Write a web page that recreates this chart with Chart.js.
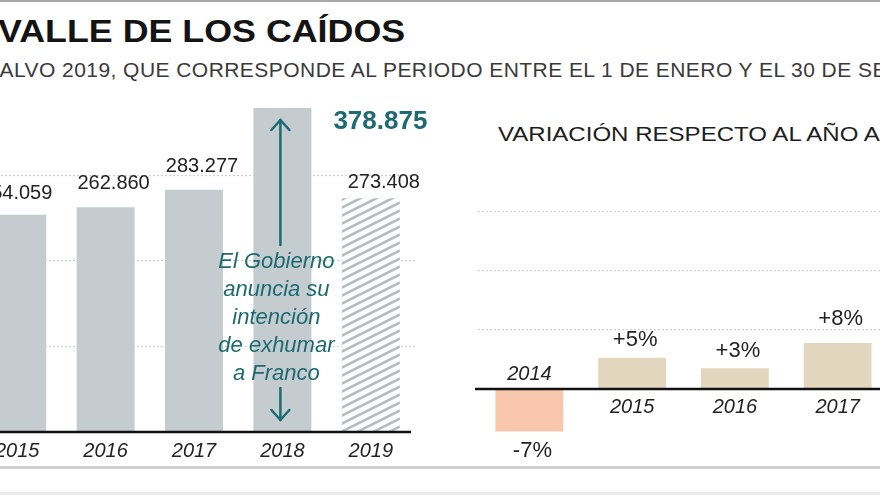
<!DOCTYPE html>
<html><head><meta charset="utf-8">
<script src="https://cdn.jsdelivr.net/npm/chart.js@4.4.0/dist/chart.umd.min.js"></script>
<style>
html,body{margin:0;padding:0;width:880px;height:495px;overflow:hidden;background:#fff;font-family:"Liberation Sans",Arial,sans-serif;}
#wrap{position:relative;width:880px;height:495px;overflow:hidden;}
.topline{position:absolute;left:0;top:0;width:880px;height:2px;background:#a8a8a8;}
.botline{position:absolute;left:0;top:466px;width:880px;height:3px;background:#cfcfcf;}
.botline2{position:absolute;left:0;top:492px;width:880px;height:3px;background:#ececec;}
.title{position:absolute;left:-2px;top:16px;font-weight:bold;font-size:31px;color:#141414;white-space:nowrap;line-height:31px;transform:scaleX(1.155);transform-origin:0 0;}
.sub{position:absolute;left:-15px;top:59px;font-size:21px;letter-spacing:0.45px;color:#3a3a3a;white-space:nowrap;line-height:21px;}
.rtitle{position:absolute;left:498px;top:123px;font-size:21px;color:#1e1e1e;white-space:nowrap;line-height:21px;transform:scaleX(1.145);transform-origin:0 0;}
#c1{position:absolute;left:-27px;top:80px;}
#c2{position:absolute;left:440px;top:140px;}
</style></head>
<body><div id="wrap">
<div class="topline"></div>
<div class="title">VALLE DE LOS CAÍDOS</div>
<div class="sub">SALVO 2019, QUE CORRESPONDE AL PERIODO ENTRE EL 1 DE ENERO Y EL 30 DE SEPTIEMBRE</div>
<div class="rtitle">VARIACIÓN RESPECTO AL AÑO ANTERIOR</div>
<canvas id="c1" width="480" height="400"></canvas>
<canvas id="c2" width="460" height="330"></canvas>
<div class="botline"></div>
<div class="botline2"></div>
</div>
<script>
// ---- data ----
const years = ['2015', '2016', '2017', '2018', '2019'];
const visitors = [254059, 262860, 283277, 378875, 273408];
const leftGridTicks = [100000, 200000, 300000];
const varYears = ['2014', '2015', '2016', '2017'];
const varValues = [-7.2, 5.3, 3.5, 7.8];
const varLabels = ['-7%', '+5%', '+3%', '+8%'];
const varGridTicks = [10, 20, 30];
const noteLines = ['El Gobierno', 'anuncia su', 'intención', 'de exhumar', 'a Franco'];

const FONT = '"Liberation Sans", Arial, sans-serif';
const TEAL = '#1e6a73';
const fmt = v => String(v).replace(/\B(?=(\d{3})+(?!\d))/g, '.');

// hatch pattern
function makeHatch() {
  const W = 16, H = 8;
  const p = document.createElement('canvas');
  p.width = W; p.height = H;
  const g = p.getContext('2d');
  g.fillStyle = '#ffffff'; g.fillRect(0, 0, W, H);
  g.strokeStyle = '#b2bdc1'; g.lineWidth = 2.6;
  for (const off of [-H, 0, H]) {
    g.beginPath(); g.moveTo(-W, H + off + H); g.lineTo(2 * W, off - H); g.stroke();
  }
  return document.getElementById('c1').getContext('2d').createPattern(p, 'repeat');
}
const hatch = makeHatch();
const barColors = visitors.map((v, i) => i === years.length - 1 ? hatch : '#c5cccf');

const leftDeco = {
  id: 'leftDeco',
  afterDatasetsDraw(chart) {
    const ctx = chart.ctx, area = chart.chartArea;
    const meta = chart.getDatasetMeta(0);
    const y0 = chart.scales.y.getPixelForValue(0);
    ctx.save();
    // baseline
    ctx.strokeStyle = '#111'; ctx.lineWidth = 2.5;
    ctx.beginPath(); ctx.moveTo(area.left, y0); ctx.lineTo(area.right - 4, y0); ctx.stroke();
    const dx = [-1, 8, 8, 0, 13];
    const gap = [16, 18, 18, 0, 10];
    meta.data.forEach((bar, i) => {
      // year labels
      ctx.fillStyle = '#222'; ctx.textAlign = 'center'; ctx.textBaseline = 'alphabetic';
      ctx.font = 'italic 20px ' + FONT;
      ctx.fillText(years[i], bar.x, y0 + 25);
      if (i === 3) {
        ctx.fillStyle = TEAL; ctx.font = 'bold 26px ' + FONT;
        ctx.fillText(fmt(visitors[i]), bar.x + 98, bar.y + 21);
      } else {
        ctx.font = '20px ' + FONT;
        ctx.fillText(fmt(visitors[i]), bar.x + dx[i], bar.y - gap[i]);
      }
    });
    // annotation on 2018
    const b = meta.data[3];
    ctx.fillStyle = TEAL; ctx.font = 'italic 22px ' + FONT;
    noteLines.forEach((t, k) => ctx.fillText(t, b.x - 6, 268 - 80 + 28 * k));
    ctx.strokeStyle = TEAL; ctx.lineWidth = 2.5; ctx.lineCap = 'round';
    const ax = b.x - 2;
    const arrow = (x, yFrom, yTip) => {
      const d = yTip < yFrom ? 1 : -1;
      ctx.beginPath(); ctx.moveTo(x, yFrom); ctx.lineTo(x, yTip); ctx.stroke();
      ctx.beginPath(); ctx.moveTo(x - 9, yTip + d * 10); ctx.lineTo(x, yTip); ctx.lineTo(x + 9, yTip + d * 10); ctx.stroke();
    };
    arrow(ax, 245 - 80, 120 - 80);
    arrow(ax, 388 - 80, 420 - 80);
    ctx.restore();
  }
};

new Chart(document.getElementById('c1'), {
  type: 'bar',
  data: { labels: years, datasets: [{ data: visitors, backgroundColor: barColors, borderWidth: 0,
    barPercentage: 0.656, categoryPercentage: 1 }] },
  options: {
    responsive: false, animation: false,
    layout: { padding: { left: 0, right: 38, top: 10, bottom: 48 } },
    plugins: { legend: { display: false }, tooltip: { enabled: false } },
    scales: {
      x: { display: false },
      y: { display: true, min: 0, max: 400000,
        ticks: { display: false, stepSize: 100000 },
        grid: { drawTicks: false, lineWidth: 1.2,
          color: c => leftGridTicks.includes(c.tick.value) ? '#cfcfcf' : 'rgba(0,0,0,0)' },
        border: { display: false, dash: [2, 2] } }
    }
  },
  plugins: [leftDeco]
});

const rightDeco = {
  id: 'rightDeco',
  afterDatasetsDraw(chart) {
    const ctx = chart.ctx, area = chart.chartArea;
    const meta = chart.getDatasetMeta(0);
    const y0 = chart.scales.y.getPixelForValue(0);
    ctx.save();
    ctx.strokeStyle = '#111'; ctx.lineWidth = 2.5;
    ctx.beginPath(); ctx.moveTo(area.left - 3, y0); ctx.lineTo(area.right, y0); ctx.stroke();
    const gap = [0, 12, 11, 18];
    meta.data.forEach((bar, i) => {
      ctx.fillStyle = '#222'; ctx.textAlign = 'center'; ctx.textBaseline = 'alphabetic';
      ctx.font = 'italic 20px ' + FONT;
      const neg = varValues[i] < 0;
      ctx.fillText(varYears[i], bar.x, neg ? y0 - 9 : y0 + 24);
      ctx.font = '22px ' + FONT;
      if (neg) ctx.fillText(varLabels[i], bar.x + 3, bar.y + 26);
      else ctx.fillText(varLabels[i], bar.x + 3, bar.y - gap[i]);
    });
    ctx.restore();
  }
};

new Chart(document.getElementById('c2'), {
  type: 'bar',
  data: { labels: varYears, datasets: [{ data: varValues,
    backgroundColor: varValues.map(v => v < 0 ? '#f7c6ad' : '#e3d6bf'), borderWidth: 0,
    barPercentage: 0.66, categoryPercentage: 1 }] },
  options: {
    responsive: false, animation: false,
    layout: { padding: { left: 38, right: 11, top: 13, bottom: 22 } },
    plugins: { legend: { display: false }, tooltip: { enabled: false } },
    scales: {
      x: { display: false },
      y: { display: true, min: -10, max: 40,
        ticks: { display: false, stepSize: 10 },
        grid: { drawTicks: false, lineWidth: 1.2,
          color: c => varGridTicks.includes(c.tick.value) ? '#d2d2d2' : 'rgba(0,0,0,0)' },
        border: { display: false, dash: [2, 2] } }
    }
  },
  plugins: [rightDeco]
});
</script>
</body></html>
